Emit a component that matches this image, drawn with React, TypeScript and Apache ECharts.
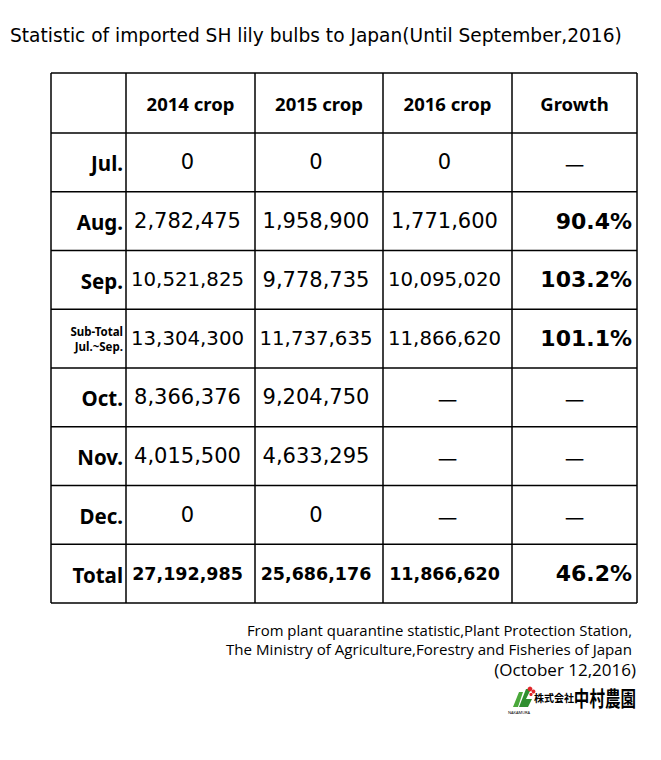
import React, { useEffect, useRef } from "react";
import * as echarts from "echarts";

const title = "Statistic of imported SH lily bulbs to Japan(Until September,2016)";
const headers = ["2014 crop", "2015 crop", "2016 crop", "Growth"];
const rowLabels = ["Jul.", "Aug.", "Sep.", "Sub-Total\nJul.~Sep.", "Oct.", "Nov.", "Dec.", "Total"];
const crop2014: (number | null)[] = [0, 2782475, 10521825, 13304300, 8366376, 4015500, 0, 27192985];
const crop2015: (number | null)[] = [0, 1958900, 9778735, 11737635, 9204750, 4633295, 0, 25686176];
const crop2016: (number | null)[] = [0, 1771600, 10095020, 11866620, null, null, null, 11866620];
const growth: (number | null)[] = [null, 90.4, 103.2, 101.1, null, null, null, 46.2];
const sourceLines = [
  "From plant quarantine statistic,Plant Protection Station,",
  "The Ministry of Agriculture,Forestry and Fisheries of Japan",
];
const dateLine = "(October 12,2016)";
const companyPrefix = "株式会社";
const companyName = "中村農園";

const COLS = [51, 126, 255, 383, 512, 637];
const TOP = 73;
const HEAD_BOTTOM = 133;
const BOTTOM = 603;

function txt(text: string, x: number, y: number, o: any = {}) {
  const align = o.align || "left";
  const valign = o.valign || "middle";
  const el: any = {
    type: "text",
    x,
    y,
    silent: true,
    style: {
      text,
      fill: o.fill || "#000",
      fontSize: o.size || 16,
      fontFamily: o.family || "Noto Sans",
      fontWeight: o.weight || "normal",
      align,
      verticalAlign: valign,
      textAlign: align,
      textVerticalAlign: valign,
      lineHeight: o.lineHeight,
    },
  };
  if (o.scaleX) el.scaleX = o.scaleX;
  if (o.scaleY) el.scaleY = o.scaleY;
  return el;
}

function fmt(v: number) {
  return v.toLocaleString("en-US");
}

export default function App() {
  const ref = useRef<HTMLDivElement>(null);
  useEffect(() => {
    if (!ref.current) return;
    const chart = echarts.init(ref.current, undefined, { renderer: "svg" });
    const nRows = rowLabels.length;
    const rowH = (BOTTOM - HEAD_BOTTOM) / nRows;
    const els: any[] = [];
    els.push({ type: "rect", shape: { x: 0, y: 0, width: 661, height: 760 }, style: { fill: "#fff" }, silent: true });
    // title
    els.push(txt(title, 10, 35, { size: 18.6, family: "DejaVu Sans" }));
    // grid lines
    const lineStyle = { stroke: "#000", lineWidth: 1.5 };
    const hLines = [TOP, HEAD_BOTTOM];
    for (let i = 1; i <= nRows; i++) hLines.push(HEAD_BOTTOM + rowH * i);
    hLines.forEach((y) =>
      els.push({ type: "line", shape: { x1: COLS[0], y1: y, x2: COLS[COLS.length - 1], y2: y }, style: lineStyle, silent: true })
    );
    COLS.forEach((x) =>
      els.push({ type: "line", shape: { x1: x, y1: TOP, x2: x, y2: BOTTOM }, style: lineStyle, silent: true })
    );
    // headers
    headers.forEach((h, i) => {
      const cx = (COLS[i + 1] + COLS[i + 2]) / 2;
      els.push(txt(h, cx, (TOP + HEAD_BOTTOM) / 2, { size: 18.5, weight: "bold", align: "center" }));
    });
    const dash = (cx: number, cy: number) => txt("—", cx, cy, { size: 22, family: "Noto Sans CJK JP", align: "center" });
    rowLabels.forEach((lab, r) => {
      const cy = HEAD_BOTTOM + rowH * (r + 0.5);
      const isTotal = lab === "Total";
      const isSub = lab.indexOf("\n") >= 0;
      if (isSub) {
        els.push(txt(lab, COLS[1] - 3, cy, { size: 11.5, weight: "bold", align: "right", lineHeight: 15 }));
      } else {
        els.push(txt(lab, COLS[1] - 3, cy + 1, { size: 20.5, weight: "bold", align: "right" }));
      }
      [crop2014, crop2015, crop2016].forEach((arr, c) => {
        const v = arr[r];
        const cx = (COLS[c + 1] + COLS[c + 2]) / 2;
        if (v == null) {
          els.push(dash(cx, cy));
          return;
        }
        const s = fmt(v);
        if (isTotal) {
          els.push(txt(s, cx - 3, cy, { size: 17.5, weight: "bold", family: "DejaVu Sans", align: "center" }));
        } else {
          const nd = s.replace(/,/g, "").length;
          const nc = s.length - nd;
          const em = nd * 0.636 + nc * 0.318;
          const size = Math.min(21, 113 / em);
          els.push(txt(s, cx - 3, cy, { size, family: "DejaVu Sans", align: "center" }));
        }
      });
      const g = growth[r];
      const gx = (COLS[4] + COLS[5]) / 2;
      if (g == null) {
        els.push(dash(gx, cy));
      } else {
        els.push(txt(g.toFixed(1) + "%", COLS[5] - 5, cy, { size: 22, weight: "bold", family: "DejaVu Sans", align: "right" }));
      }
    });
    // footnote
    els.push(txt(sourceLines[0], 632, 630, { size: 14.9, family: "Open Sans", align: "right" }));
    els.push(txt(sourceLines[1], 632, 649, { size: 15.1, family: "Open Sans", align: "right" }));
    els.push(txt(dateLine, 636, 669, { size: 17, family: "Open Sans", align: "right" }));
    // logo
    els.push({
      type: "polygon",
      shape: { points: [[513, 707], [519, 692], [523, 692], [518, 707]] },
      style: { fill: "#4aa83a" },
      silent: true,
    });
    els.push({
      type: "polygon",
      shape: { points: [[519, 707], [526, 689], [531, 689], [526, 699], [532, 699], [528, 707]] },
      style: { fill: "#2f8f2f" },
      silent: true,
    });
    els.push({ type: "circle", shape: { cx: 530, cy: 689, r: 2.4 }, style: { fill: "#e0262a" }, silent: true });
    els.push({ type: "circle", shape: { cx: 533.5, cy: 691.5, r: 1.9 }, style: { fill: "#e0262a" }, silent: true });
    els.push({ type: "circle", shape: { cx: 531, cy: 694.5, r: 1.6 }, style: { fill: "#e0262a" }, silent: true });
    els.push(txt("NAKAMURA", 519, 712, { size: 4, align: "center" }));
    els.push(txt(companyPrefix, 574, 697, { size: 10, weight: "bold", family: "Noto Sans CJK JP", align: "right" }));
    els.push(txt(companyName, 636, 697, { size: 21, weight: "bold", family: "Noto Sans CJK JP", align: "right", scaleX: 0.74 }));

    chart.setOption({ animation: false, graphic: { elements: els } });
    return () => chart.dispose();
  }, []);
  return <div ref={ref} style={{ position: "absolute", left: 0, top: 0, width: 661, height: 760 }} />;
}
